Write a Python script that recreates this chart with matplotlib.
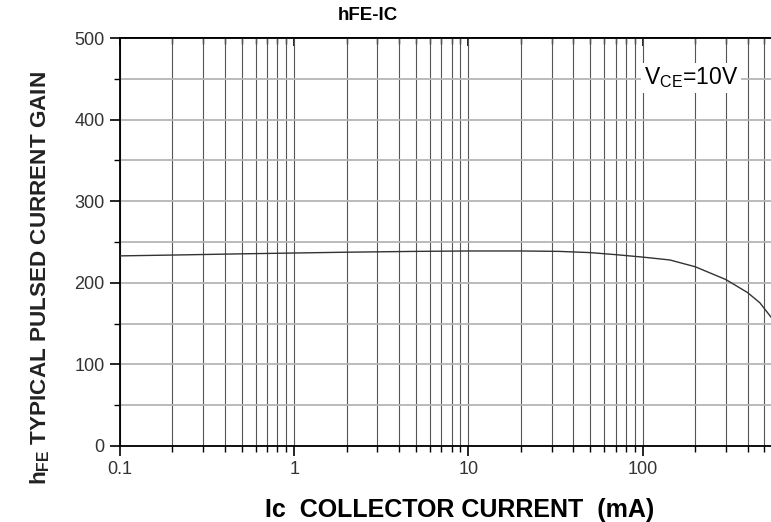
import numpy as np
import matplotlib
matplotlib.use("Agg")
import matplotlib.pyplot as plt
from matplotlib.ticker import LogLocator, MultipleLocator, FixedLocator

plt.rcParams['font.family'] = ['Liberation Sans', 'DejaVu Sans']
plt.rcParams['mathtext.fontset'] = 'custom'
plt.rcParams['mathtext.rm'] = 'Liberation Sans'
plt.rcParams['mathtext.bf'] = 'Liberation Sans:bold'

# collector current (mA) and typical hFE
ic_ma = [0.1, 0.2, 0.5, 1, 2, 5, 10, 20, 33, 50, 70, 100, 143, 200, 300, 400, 470, 545]
hfe = [233, 234, 235.5, 236.5, 237.5, 238.5, 239, 239, 238.5, 237, 234.5, 231.5,
       228, 219.7, 204, 188, 175.6, 158]

xticks = [0.1, 1, 10, 100]
xticklabels = ['0.1', '1', '10', '100']
yticks = [0, 100, 200, 300, 400, 500]

fig = plt.figure(figsize=(7.71, 5.22), dpi=100)
ax = fig.add_axes([0.1556, 0.1456, 0.8444, 0.7816])

ax.plot(ic_ma, hfe, color='#333333', lw=1.0, zorder=3)

ax.set_xscale('log')
ax.set_xlim(0.1, 545)
ax.set_ylim(0, 500)

ax.xaxis.set_major_locator(FixedLocator(xticks))
ax.set_xticklabels(xticklabels)
ax.xaxis.set_minor_locator(LogLocator(base=10, subs=np.arange(2, 10)))
ax.xaxis.set_minor_formatter(plt.NullFormatter())
ax.set_yticks(yticks)
ax.yaxis.set_minor_locator(MultipleLocator(50))

ax.grid(which='both', axis='x', color='#555555', lw=0.8)
ax.grid(which='both', axis='y', color='#b5b5b5', lw=1.3)
ax.set_axisbelow(True)

ax.tick_params(axis='both', which='major', direction='out', length=7, width=1.2,
               labelsize=13, labelcolor='#333333', pad=4)
ax.tick_params(axis='both', which='minor', direction='out', length=4.5, width=1.0)
ax.spines['right'].set_visible(False)
for s in ['left', 'bottom', 'top']:
    ax.spines[s].set_linewidth(1.3)

# inward ticks along the top frame
top = ax.secondary_xaxis('top')
top.xaxis.set_major_locator(FixedLocator(xticks))
top.xaxis.set_minor_locator(LogLocator(base=10, subs=np.arange(2, 10)))
top.xaxis.set_major_formatter(plt.NullFormatter())
top.xaxis.set_minor_formatter(plt.NullFormatter())
top.tick_params(which='major', direction='in', length=6, width=1.2)
top.tick_params(which='minor', direction='in', length=4, width=1.0)
top.spines['top'].set_linewidth(1.3)

ax.set_title('hFE-IC', fontsize=13.5, fontweight='bold', x=0.381, pad=13)
ax.set_xlabel('Ic  COLLECTOR CURRENT  (mA)', fontsize=18, fontweight='bold')
ax.xaxis.set_label_coords(0.5215, -0.128)
ax.set_ylabel(r'h$_{\mathbf{FE}}$ TYPICAL PULSED CURRENT GAIN', fontsize=16.2,
              fontweight='bold', color='#222222')
ax.yaxis.set_label_coords(-0.105, 0.412)

ax.text(0.877, 0.902, r'V$_{\mathrm{CE}}$=10V', transform=ax.transAxes, fontsize=16.5,
        ha='center', va='center', zorder=4,
        bbox=dict(facecolor='white', edgecolor='none', pad=2))

fig.savefig('out.png', dpi=100)
